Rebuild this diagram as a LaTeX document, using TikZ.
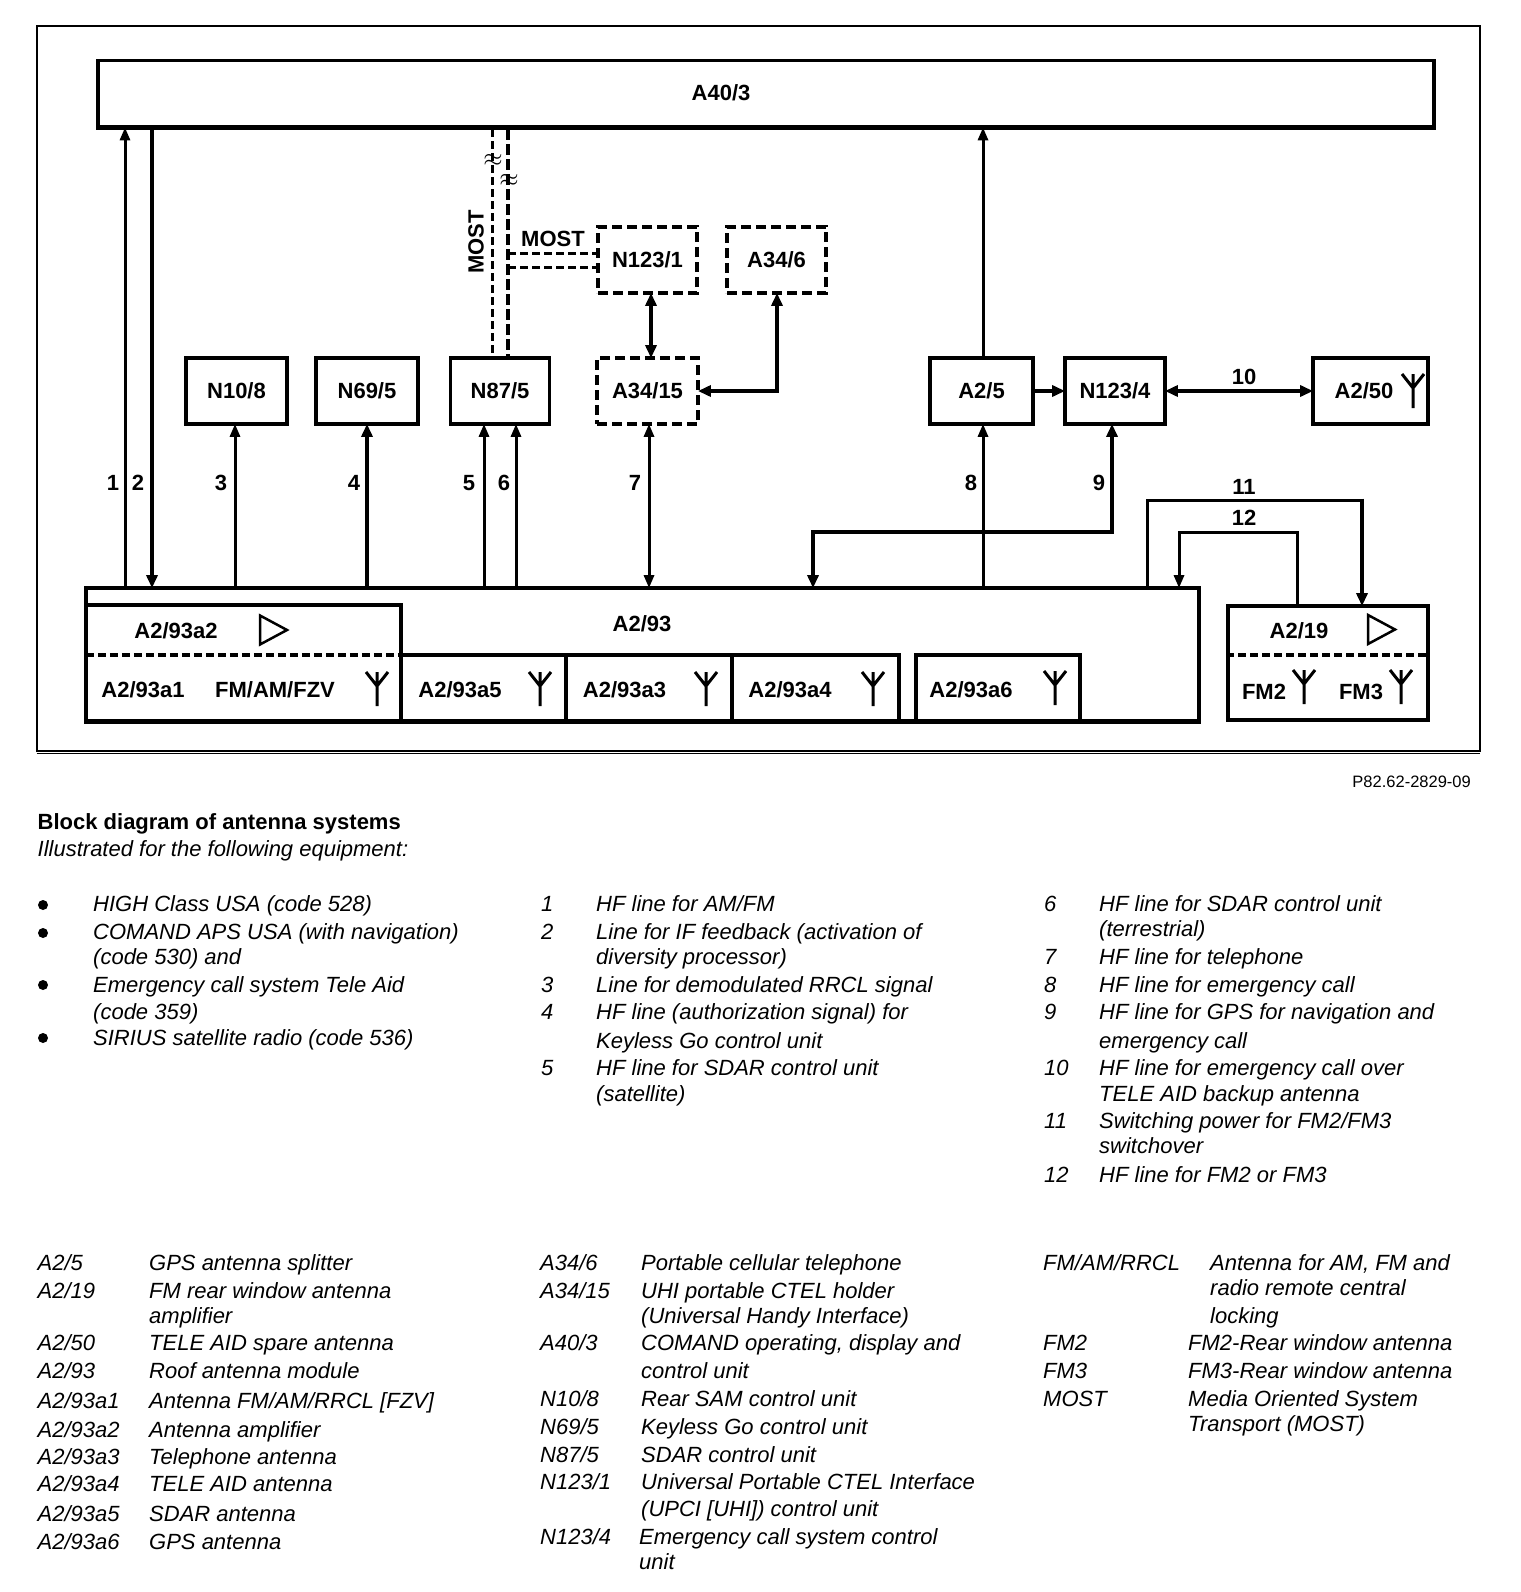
\documentclass[tikz,border=0pt]{standalone}
\usepackage{fontspec}
\setmainfont{Liberation Sans}
\usetikzlibrary{arrows.meta}
\tikzset{
    unit/.style={rectangle, draw, line width=3.8pt, inner sep=0pt, font=\fontsize{22}{22}\selectfont\bfseries},
    dashunit/.style={unit, dash pattern=on 10pt off 5pt},
    tag/.style={inner sep=0pt, font=\fontsize{22}{22}\selectfont\bfseries},
    wire/.style={line width=3pt, shorten >=-2pt, shorten <=-2pt, >={Triangle[length=13pt,width=10pt]}},
    fatwire/.style={line width=4.5pt, shorten >=-2pt, shorten <=-2pt, >={Triangle[length=13pt,width=11pt]}},
    mostwire/.style={line width=3pt, dash pattern=on 8pt off 4pt},
    mostfat/.style={line width=4.5pt, dash pattern=on 11pt off 4pt},
    legend/.style={anchor=base west, inner sep=0pt, font=\fontsize{22}{22}\selectfont\itshape},
    dot/.style={circle, fill=black, inner sep=0pt, minimum size=10pt},
    antenna/.pic={\draw[line width=3pt] (0,0) -- (0,34) (-11,0) -- (0,14) -- (11,0);},
    amp/.pic={\draw[line width=2.5pt] (0,0) -- (27,14.5) -- (0,29) -- cycle;}
}

\begin{document}
\begin{tikzpicture}[x=1pt, y=-1pt]
    \useasboundingbox (0,0) rectangle (1520,1592);
    \draw[line width=2pt] (36.5,26) -- (1480,26) -- (1480,750.5) -- (36.5,750.5) -- cycle;
    \draw[line width=1pt] (36.5,753) -- (1480,753);

    \node[unit, minimum width=1336pt, minimum height=67pt] (a403) at (766,94) {};
    \draw[line width=5pt] (a403.south west) ++(0,-2) -- ++(1339.8,0);
    \node[tag] (a403t) at (721,93) {A40/3};

    \node[unit, minimum width=101pt, minimum height=66pt] (n108) at (236.5,391) {N10/8};
    \node[unit, minimum width=102pt, minimum height=66pt] (n695) at (367,391) {N69/5};
    \node[unit, minimum width=99pt, minimum height=66pt] (n875) at (500,391) {N87/5};
    \node[dashunit, minimum width=99pt, minimum height=66pt] (n1231) at (647.5,260) {N123/1};
    \node[dashunit, minimum width=99pt, minimum height=66pt] (a346) at (776.5,260) {A34/6};
    \node[dashunit, minimum width=101pt, minimum height=66pt] (a3415) at (647.5,391) {A34/15};
    \node[unit, minimum width=103pt, minimum height=66pt] (a25) at (981.5,391) {A2/5};
    \node[unit, minimum width=100pt, minimum height=66pt] (n1234) at (1115,391) {N123/4};
    \node[unit, minimum width=115pt, minimum height=66pt] (a250) at (1370.5,391) {};
    \node[tag] (a250t) at (1364,391) {A2/50};
    \pic (ant250) at (1413,374) {antenna};

    \node[unit, minimum width=1113pt, minimum height=133pt] (a293) at (642.5,654.5) {};
    \draw[line width=5pt] (a293.south west) ++(0,-1) -- ++(1116.8,0);
    \node[tag] (a293t) at (642,623.5) {A2/93};
    \node[inner sep=0pt, minimum width=315pt, minimum height=50pt] (a293a2) at (243.5,630) {};
    \node[inner sep=0pt, minimum width=315pt, minimum height=66pt] (a293a1) at (243.5,688) {};
    \draw[line width=3.5pt] (a293a2.south east) |- (a293a2.north west);
    \draw[line width=3.5pt, dash pattern=on 8pt off 4pt] (a293a2.south west) -- (a293a2.south east);
    \draw[line width=3.5pt] (a293a1.north east) -- (a293a1.south east);
    \node[unit, minimum width=165pt, minimum height=66pt] (a293a5) at (483.5,688) {};
    \node[unit, minimum width=166pt, minimum height=66pt] (a293a3) at (649,688) {};
    \node[unit, minimum width=167pt, minimum height=66pt] (a293a4) at (815.5,688) {};
    \node[unit, minimum width=164pt, minimum height=66pt] (a293a6) at (998,688) {};
    \node[tag] (a2t) at (176,631) {A2/93a2};
    \node[tag] (a1t) at (143,689.5) {A2/93a1};
    \node[tag] (fzvt) at (275,689.5) {FM/AM/FZV};
    \node[tag] (a5t) at (460,689.5) {A2/93a5};
    \node[tag] (a3t) at (624.5,689.5) {A2/93a3};
    \node[tag] (a4t) at (790,689.5) {A2/93a4};
    \node[tag] (a6t) at (971,689.5) {A2/93a6};
    \pic (amp2) at (260,615.5) {amp};
    \pic (ant1) at (377,672) {antenna};
    \pic (ant5) at (540,672) {antenna};
    \pic (ant3) at (706,672) {antenna};
    \pic (ant4) at (873,672) {antenna};
    \pic (ant6) at (1055,671) {antenna};

    \node[unit, minimum width=200pt, minimum height=114pt] (a219) at (1328,663) {};
    \node[tag] (a219t) at (1299,631) {A2/19};
    \node[tag] (fm2t) at (1264,692) {FM2};
    \node[tag] (fm3t) at (1361,692) {FM3};
    \draw[line width=3.5pt, dash pattern=on 8pt off 4pt] (a219.west |- 0,655) -- (a219.east |- 0,655);
    \pic (amp19) at (1368,615) {amp};
    \pic (antfm2) at (1304,670) {antenna};
    \pic (antfm3) at (1401,670) {antenna};

    \coordinate (c1) at (125,0);
    \coordinate (c2) at (152,0);
    \coordinate (c3) at (235,0);
    \coordinate (c4) at (367,0);
    \coordinate (c5) at (484,0);
    \coordinate (c6) at (516,0);
    \coordinate (c7) at (649,0);
    \coordinate (c8) at (983,0);
    \coordinate (m1) at (492,0);
    \coordinate (m2) at (508,0);
    \coordinate (m3) at (0,253);
    \coordinate (m4) at (0,267);
    \coordinate (s1) at (651,0);
    \coordinate (s2) at (777,391);
    \coordinate (j9) at (1112,532);
    \coordinate (k9) at (813,532);
    \coordinate (j11) at (1147,500);
    \coordinate (k11) at (1362,500);
    \coordinate (j12) at (1297,532);
    \coordinate (k12) at (1179,532);

    \draw[wire, ->] (c1 |- a293.north) -- (c1 |- a403.south);
    \draw[fatwire, ->] (c2 |- a403.south) -- (c2 |- a293.north);
    \draw[wire, ->] (c3 |- a293.north) -- (c3 |- n108.south);
    \draw[fatwire, ->] (c4 |- a293.north) -- (c4 |- n695.south);
    \draw[wire, ->] (c5 |- a293.north) -- (c5 |- n875.south);
    \draw[wire, ->] (c6 |- a293.north) -- (c6 |- n875.south);
    \draw[wire, <->] (c7 |- a293.north) -- (c7 |- a3415.south);
    \draw[wire, ->] (c8 |- a293.north) -- (c8 |- a25.south);
    \draw[wire, ->] (c8 |- a25.north) -- (c8 |- a403.south);
    \draw[fatwire, <->] (j9 |- n1234.south) -- (j9) -- (k9) -- (k9 |- a293.north);
    \draw[wire, shorten >=0pt] (j11 |- a293.north) -- (j11) -- (k11);
    \draw[fatwire, ->, shorten <=-1.5pt] (k11) -- (k11 |- a219.north);
    \draw[wire, ->] (j12 |- a219.north) -- (j12) -- (k12) -- (k12 |- a293.north);
    \draw[fatwire, <->] (s1 |- n1231.south) -- (s1 |- a3415.north);
    \draw[fatwire, <->] (s2 |- a346.south) -- (s2) -- (a3415.east |- s2);
    \draw[fatwire, ->] (a25.east) -- (n1234.west);
    \draw[fatwire, <->] (n1234.east) -- (a250.west);

    \draw[mostwire] (m1 |- a403.south) -- (m1 |- n875.north);
    \draw[mostfat] (m2 |- a403.south) -- (m2 |- n875.north);
    \draw[mostwire] (m2 |- m3) -- (n1231.west |- m3);
    \draw[mostwire] (m2 |- m4) -- (n1231.west |- m4);
    \node[inner sep=0pt, font=\fontsize{28}{28}\selectfont\bfseries] (sw1) at (493,160) {$\approx$};
    \node[inner sep=0pt, font=\fontsize{28}{28}\selectfont\bfseries] (sw2) at (509,180) {$\approx$};
    \node[tag, rotate=90] (most1) at (476,242) {MOST};
    \node[tag] (most2) at (553,239) {MOST};

    \node[tag] (n1) at (113,483) {1};
    \node[tag] (n2) at (138,483) {2};
    \node[tag] (n3) at (221,483) {3};
    \node[tag] (n4) at (354,483) {4};
    \node[tag] (n5) at (469,483) {5};
    \node[tag] (n6) at (504,483) {6};
    \node[tag] (n7) at (635,483) {7};
    \node[tag] (n8) at (971,483) {8};
    \node[tag] (n9) at (1099,483) {9};
    \node[tag] (n10) at (1244,377) {10};
    \node[tag] (n11) at (1244,487) {11};
    \node[tag] (n12) at (1244,518) {12};

    \node[anchor=base east, inner sep=0pt, font=\fontsize{16.5}{16.5}\selectfont] (code) at (1471,787) {P82.62-2829-09};
    \node[legend, font=\fontsize{22}{22}\selectfont\bfseries] (head1) at (37.5,829) {Block diagram of antenna systems};
    \node[legend] (head2) at (37.5,856) {Illustrated for the following equipment:};

    \node[dot] (b1) at (43,905) {};
    \node[dot] (b2) at (43,933) {};
    \node[dot] (b3) at (43,985) {};
    \node[dot] (b4) at (43,1038) {};
    \node[legend] (e1) at (93,911) {HIGH Class USA (code 528)};
    \node[legend] (e2) at (93,939) {COMAND APS USA (with navigation)};
    \node[legend] (e2b) at (93,964.5) {(code 530) and};
    \node[legend] (e3) at (93,992) {Emergency call system Tele Aid};
    \node[legend] (e3b) at (93,1019.4) {(code 359)};
    \node[legend] (e4) at (93,1045) {SIRIUS satellite radio (code 536)};

    \node[legend] (k1) at (541,911) {1};
    \node[legend] (t1) at (596,911) {HF line for AM/FM};
    \node[legend] (k2) at (541,939) {2};
    \node[legend] (t2) at (596,939) {Line for IF feedback (activation of};
    \node[legend] (t2b) at (596,964.5) {diversity processor)};
    \node[legend] (k3) at (541,992) {3};
    \node[legend] (t3) at (596,992) {Line for demodulated RRCL signal};
    \node[legend] (k4) at (541,1019.4) {4};
    \node[legend] (t4) at (596,1019.4) {HF line (authorization signal) for};
    \node[legend] (t4b) at (596,1048) {Keyless Go control unit};
    \node[legend] (k5) at (541,1075) {5};
    \node[legend] (t5) at (596,1075) {HF line for SDAR control unit};
    \node[legend] (t5b) at (596,1101.6) {(satellite)};

    \node[legend] (k6) at (1044,911) {6};
    \node[legend] (t6) at (1099,911) {HF line for SDAR control unit};
    \node[legend] (t6b) at (1099,936) {(terrestrial)};
    \node[legend] (k7) at (1044,964.5) {7};
    \node[legend] (t7) at (1099,964.5) {HF line for telephone};
    \node[legend] (k8) at (1044,992) {8};
    \node[legend] (t8) at (1099,992) {HF line for emergency call};
    \node[legend] (k9t) at (1044,1019.4) {9};
    \node[legend] (t9) at (1099,1019.4) {HF line for GPS for navigation and};
    \node[legend] (t9b) at (1099,1048) {emergency call};
    \node[legend] (k10) at (1044,1075) {10};
    \node[legend] (t10) at (1099,1075) {HF line for emergency call over};
    \node[legend] (t10b) at (1099,1101.6) {TELE AID backup antenna};
    \node[legend] (k11t) at (1044,1128) {11};
    \node[legend] (t11) at (1099,1128) {Switching power for FM2/FM3};
    \node[legend] (t11b) at (1099,1153.4) {switchover};
    \node[legend] (k12t) at (1044,1182) {12};
    \node[legend] (t12) at (1099,1182) {HF line for FM2 or FM3};

    \node[legend] (p1) at (37.5,1270) {A2/5};
    \node[legend] (q1) at (149,1270) {GPS antenna splitter};
    \node[legend] (p2) at (37.5,1298.6) {A2/19};
    \node[legend] (q2) at (149,1298.6) {FM rear window antenna};
    \node[legend] (q2b) at (149,1323) {amplifier};
    \node[legend] (p3) at (37.5,1350.4) {A2/50};
    \node[legend] (q3) at (149,1350.4) {TELE AID spare antenna};
    \node[legend] (p4) at (37.5,1378) {A2/93};
    \node[legend] (q4) at (149,1378) {Roof antenna module};
    \node[legend] (p5) at (37.5,1408) {A2/93a1};
    \node[legend] (q5) at (149,1408) {Antenna FM/AM/RRCL [FZV]};
    \node[legend] (p6) at (37.5,1437) {A2/93a2};
    \node[legend] (q6) at (149,1437) {Antenna amplifier};
    \node[legend] (p7) at (37.5,1464) {A2/93a3};
    \node[legend] (q7) at (149,1464) {Telephone antenna};
    \node[legend] (p8) at (37.5,1491.5) {A2/93a4};
    \node[legend] (q8) at (149,1491.5) {TELE AID antenna};
    \node[legend] (p9) at (37.5,1521) {A2/93a5};
    \node[legend] (q9) at (149,1521) {SDAR antenna};
    \node[legend] (p10) at (37.5,1549) {A2/93a6};
    \node[legend] (q10) at (149,1549) {GPS antenna};

    \node[legend] (p11) at (540,1270) {A34/6};
    \node[legend] (q11) at (641,1270) {Portable cellular telephone};
    \node[legend] (p12) at (540,1298.6) {A34/15};
    \node[legend] (q12) at (641,1298.6) {UHI portable CTEL holder};
    \node[legend] (q12b) at (641,1323) {(Universal Handy Interface)};
    \node[legend] (p13) at (540,1350.4) {A40/3};
    \node[legend] (q13) at (641,1350.4) {COMAND operating, display and};
    \node[legend] (q13b) at (641,1378) {control unit};
    \node[legend] (p14) at (540,1406) {N10/8};
    \node[legend] (q14) at (641,1406) {Rear SAM control unit};
    \node[legend] (p15) at (540,1434) {N69/5};
    \node[legend] (q15) at (641,1434) {Keyless Go control unit};
    \node[legend] (p16) at (540,1462) {N87/5};
    \node[legend] (q16) at (641,1462) {SDAR control unit};
    \node[legend] (p17) at (540,1489.5) {N123/1};
    \node[legend] (q17) at (641,1489.5) {Universal Portable CTEL Interface};
    \node[legend] (q17b) at (641,1516) {(UPCI [UHI]) control unit};
    \node[legend] (p18) at (540,1544) {N123/4};
    \node[legend] (q18) at (639,1544) {Emergency call system control};
    \node[legend] (q18b) at (639,1569) {unit};

    \node[legend] (p19) at (1043,1270) {FM/AM/RRCL};
    \node[legend] (q19) at (1210,1270) {Antenna for AM, FM and};
    \node[legend] (q19b) at (1210,1295.5) {radio remote central};
    \node[legend] (q19c) at (1210,1323) {locking};
    \node[legend] (p20) at (1043,1350.4) {FM2};
    \node[legend] (q20) at (1188,1350.4) {FM2-Rear window antenna};
    \node[legend] (p21) at (1043,1378) {FM3};
    \node[legend] (q21) at (1188,1378) {FM3-Rear window antenna};
    \node[legend] (p22) at (1043,1406) {MOST};
    \node[legend] (q22) at (1188,1406) {Media Oriented System};
    \node[legend] (q22b) at (1188,1431.6) {Transport (MOST)};
\end{tikzpicture}
\end{document}
